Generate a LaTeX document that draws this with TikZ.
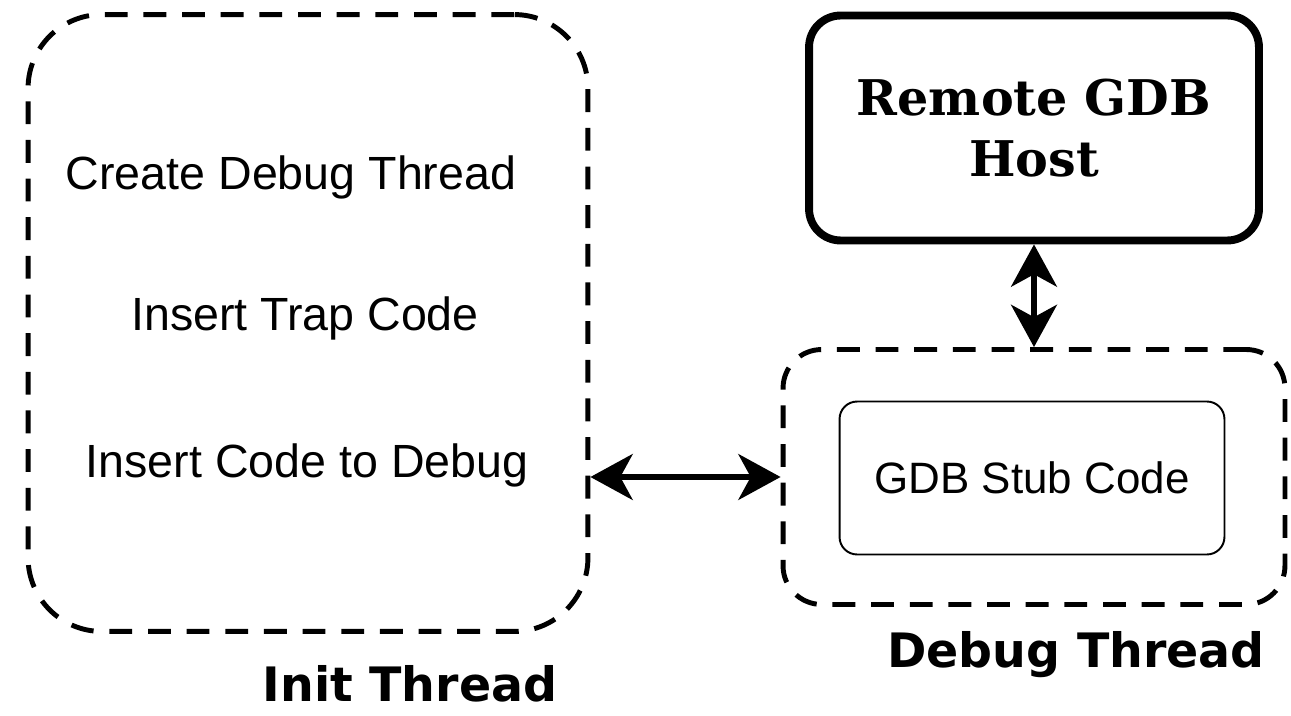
\documentclass[tikz,border=0pt]{standalone}
\usepackage{fontspec}
\usepackage{tikz}
\usetikzlibrary{arrows.meta,positioning,calc}
\newfontfamily\stepfont{Liberation Sans}
\newfontfamily\threadfont{DejaVu Sans}
\newfontfamily\hostfont{DejaVu Serif}

\begin{document}
\begin{tikzpicture}[
    x=0.02cm, y=-0.02cm,
    thread/.style={rectangle, draw=black, line width=2.8pt, dash pattern=on 13pt off 9pt, rounded corners=42pt},
    hostbox/.style={rectangle, draw=black, line width=4.5pt, rounded corners=18pt, align=center, font=\hostfont\bfseries\fontsize{28}{35}\selectfont},
    stubbox/.style={rectangle, draw=black, line width=1.1pt, rounded corners=10pt, align=center, font=\stepfont\fontsize{25}{30}\selectfont},
    steptext/.style={font=\stepfont\fontsize{26.5}{30}\selectfont},
    threadlabel/.style={inner sep=0pt, font=\threadfont\bfseries\fontsize{27}{32}\selectfont},
    link/.style={{Stealth[length=24pt, width=26pt, inset=7pt]}-{Stealth[length=24pt, width=26pt, inset=7pt]}, line width=3.5pt}
]
\useasboundingbox (0,0) rectangle (1291,716);

% Init thread
\node[thread, minimum width=11.2cm, minimum height=12.34cm] (init) at (308, 323) {};
\node[steptext] (create) at (291, 177) {Create Debug Thread};
\node[steptext] (trap) at (305, 318) {Insert Trap Code};
\node[steptext] (code) at (307, 465) {Insert Code to Debug};
\node[threadlabel] (initlabel) at (410, 684) {Init Thread};

% Remote host
\node[hostbox, minimum width=9.0cm, minimum height=4.5cm] (host) at (1034, 128) {Remote GDB\\Host};

% Debug thread
\node[thread, rounded corners=22pt, minimum width=10.04cm, minimum height=5.1cm] (debug) at (1034, 477) {};
\node[stubbox, minimum width=7.7cm, minimum height=3.06cm] (stub) at (1032, 478) {GDB Stub Code};
\node[threadlabel] (debuglabel) at (1076, 655) {Debug Thread};

% Connections
\draw[link] (init.east |- debug.west) -- (debug.west);
\draw[link] (host.south) -- (debug.north);

\end{tikzpicture}
\end{document}
